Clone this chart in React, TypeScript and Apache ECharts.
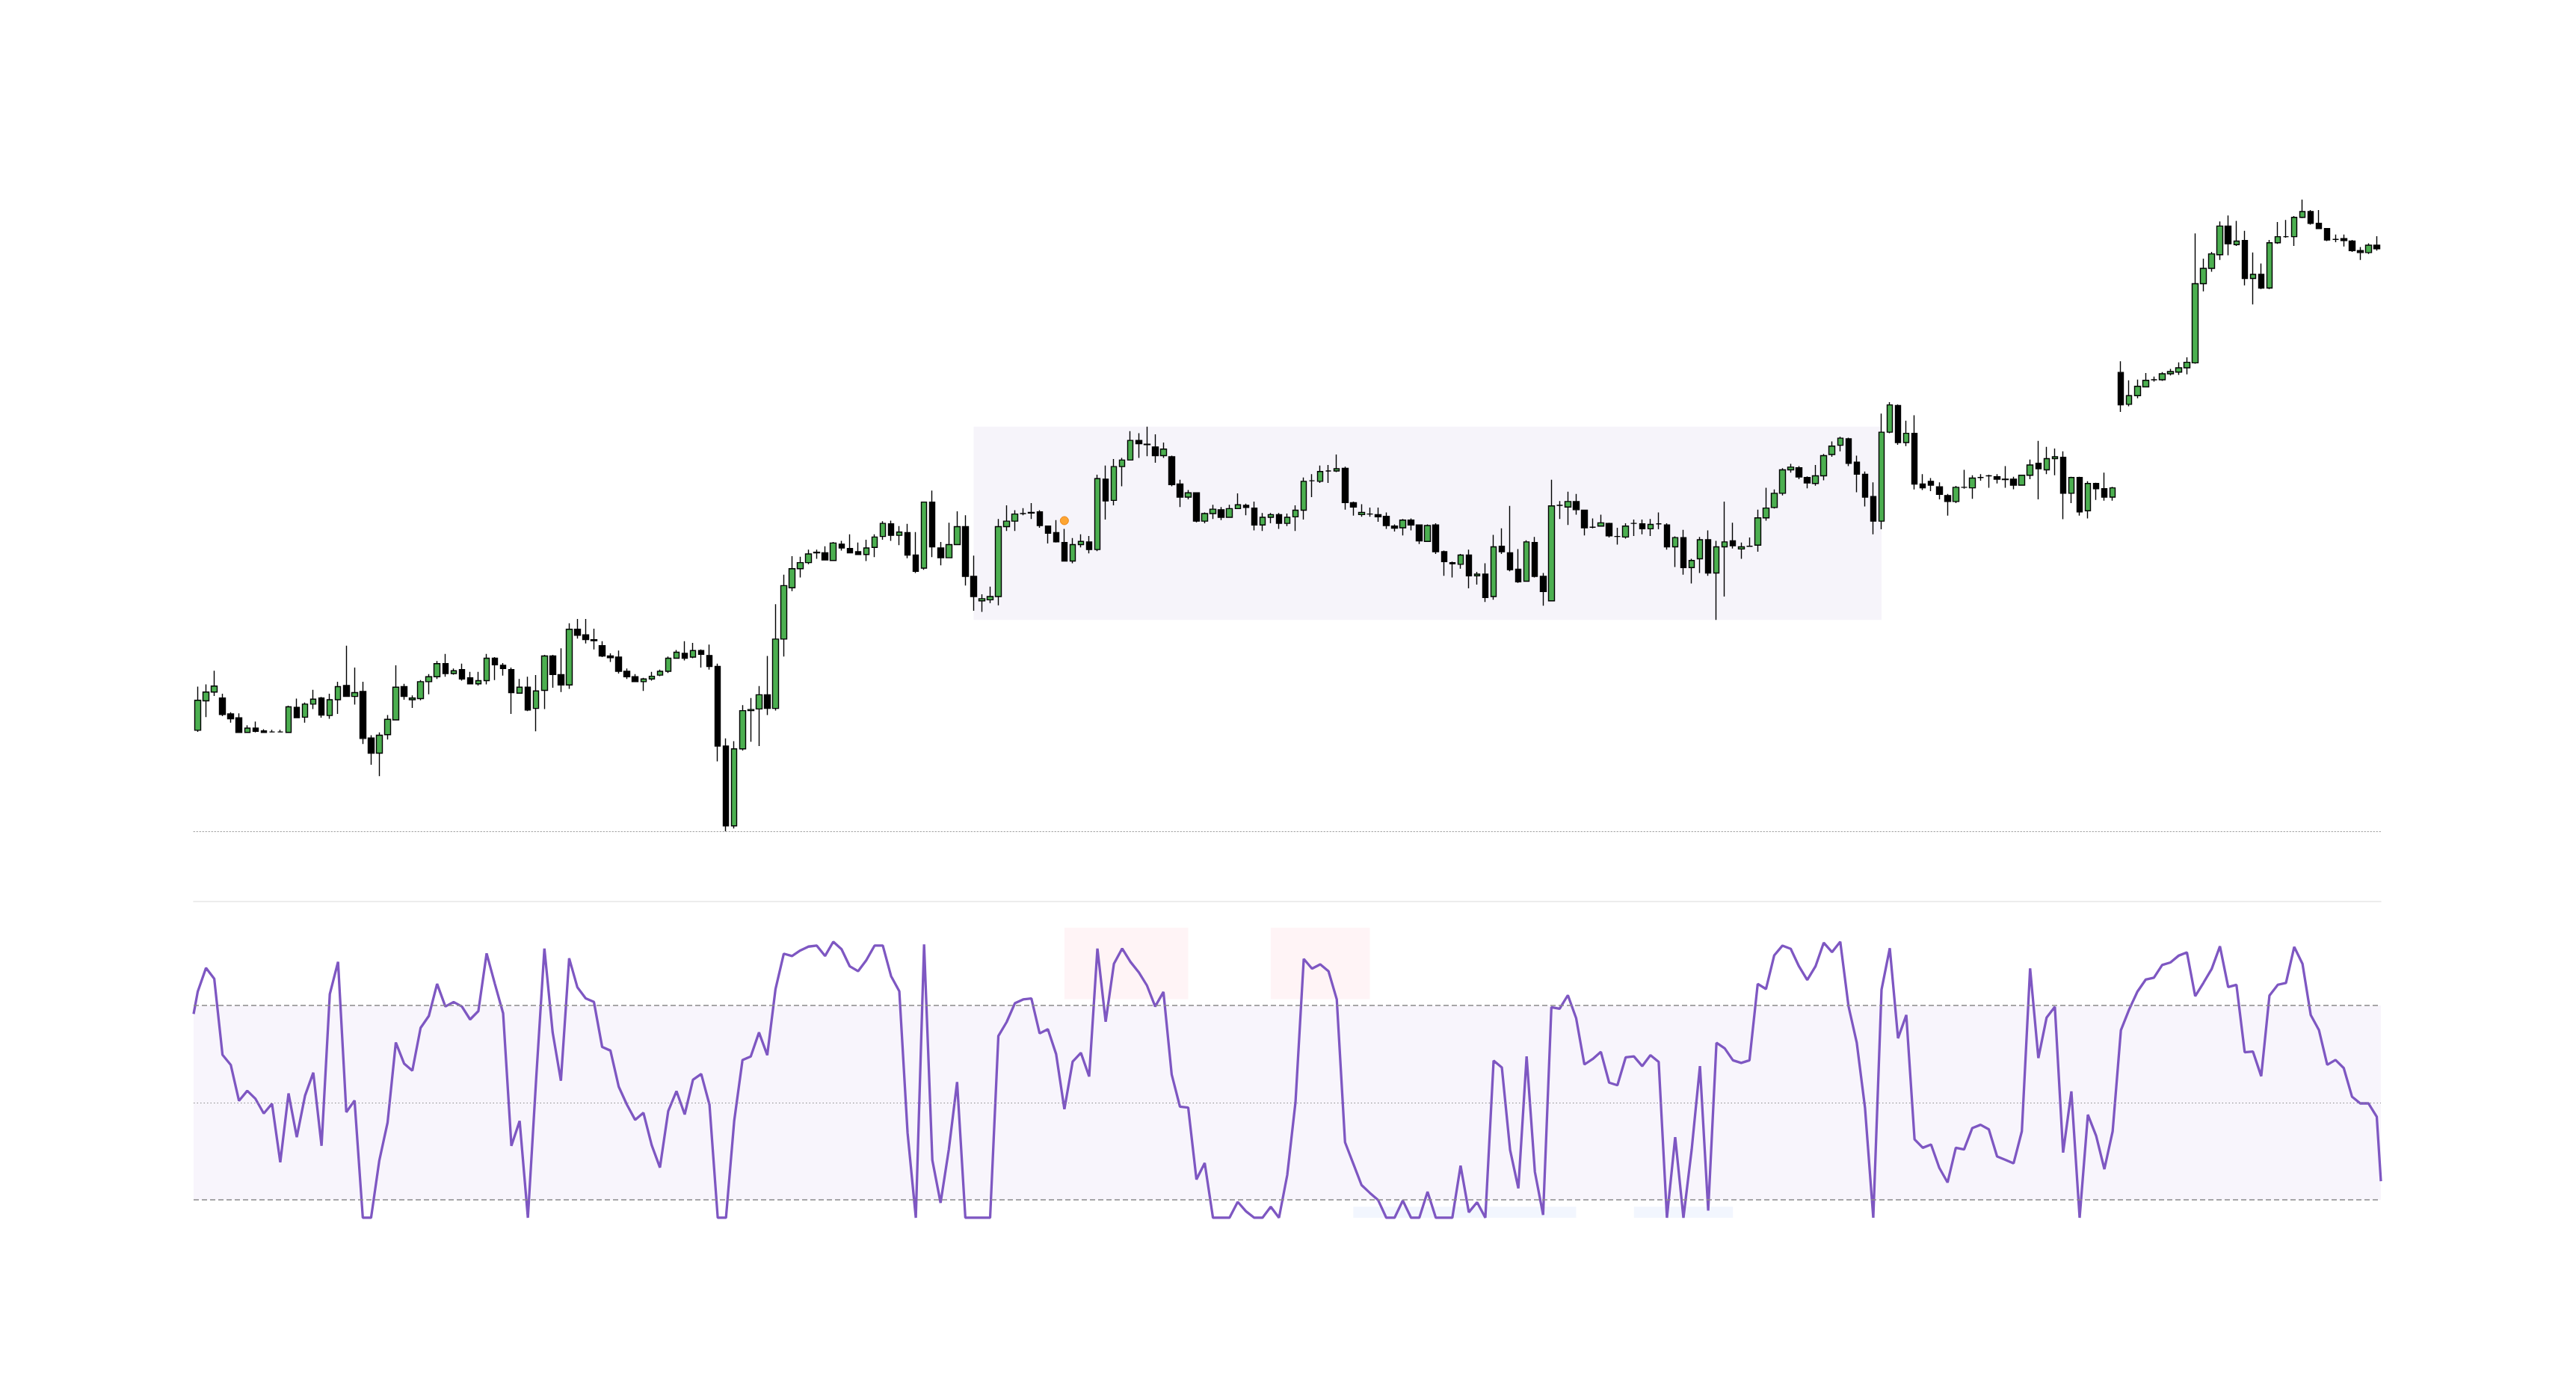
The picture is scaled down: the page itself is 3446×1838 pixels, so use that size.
import React, { useEffect, useRef } from "react";
import * as echarts from "echarts";

// Candles: [open, close, low, high]
const ohlc: number[][] = [
  [130.6,136.1,130.3,138.6],[136.0,137.6,133.0,139.0],[137.6,138.7,136.9,141.5],[136.5,133.5,133.2,137.3],
  [133.6,132.7,132.0,133.9],[132.9,130.2,130.2,133.7],[130.2,131.0,130.2,131.5],[131.0,130.4,130.2,132.2],
  [130.5,130.2,130.2,130.8],[130.3,130.3,130.2,130.7],[130.3,130.3,130.2,130.7],[130.2,134.9,130.2,135.1],
  [134.8,132.9,132.9,136.4],[133.0,135.4,132.0,135.7],[135.4,136.3,134.5,138.0],[136.5,133.4,132.9,136.7],
  [133.3,136.2,132.7,137.3],[136.2,138.6,133.6,139.5],[138.8,136.8,136.7,146.1],[136.8,137.5,135.3,142.1],
  [137.7,129.1,128.1,139.5],[129.2,126.4,124.3,129.7],[126.4,129.7,122.2,130.2],[129.8,132.6,128.9,133.4],
  [132.5,138.5,132.4,142.5],[138.6,136.8,136.2,139.1],[136.2,136.5,134.7,137.0],[136.4,139.5,136.1,139.8],
  [139.5,140.4,137.2,140.9],[140.4,142.8,140.0,143.3],[142.8,141.0,140.4,144.6],[141.0,141.5,140.8,141.9],
  [141.7,140.0,139.7,142.8],[140.2,139.1,139.0,141.3],[139.1,139.7,138.8,141.3],[139.7,143.8,139.0,144.6],
  [143.8,142.6,139.8,144.0],[142.5,141.9,140.6,142.9],[141.7,137.5,133.6,142.1],[137.4,138.5,137.3,140.0],
  [138.5,134.3,134.1,140.4],[134.6,137.8,130.4,140.7],[137.9,144.2,134.5,144.4],[144.2,140.8,138.4,144.4],
  [140.8,138.9,137.6,145.6],[138.9,149.1,138.2,150.2],[149.1,148.0,147.4,151.0],[148.1,147.2,146.5,151.0],
  [147.2,147.0,145.4,149.2],[146.1,144.2,144.0,146.9],[144.2,143.9,143.1,144.7],[144.0,141.4,141.0,145.2],
  [141.4,140.4,140.0,141.9],[140.4,139.5,139.4,140.9],[139.5,140.0,137.8,140.2],[140.0,140.5,139.7,141.3],
  [140.7,141.4,140.5,141.7],[141.4,143.8,141.1,144.1],[143.8,144.9,143.7,145.3],[144.7,143.8,143.4,146.9],
  [144.0,145.2,143.8,146.6],[145.2,144.5,142.1,145.4],[144.3,142.3,141.7,146.3],[142.3,127.7,124.9,142.8],
  [127.7,113.1,112.1,129.1],[113.1,127.2,112.6,128.6],
  [127.2,134.2,126.9,135.2],[134.2,134.4,128.5,136.5],[134.5,137.1,127.7,138.7],[137.1,134.6,133.4,144.2],
  [134.6,147.3,134.2,153.7],[147.3,157.1,144.1,159.1],[156.7,160.2,156.1,162.5],[160.2,161.3,158.6,162.4],
  [161.3,162.9,161.0,163.7],[163.1,163.2,162.0,163.7],[163.1,161.8,161.7,164.3],[161.7,164.9,161.6,165.1],
  [164.7,164.0,163.5,165.3],[163.9,163.1,163.0,166.5],[163.3,162.8,162.7,165.0],[162.8,164.0,161.6,165.5],
  [164.1,166.0,162.3,166.5],[166.1,168.5,165.5,168.9],[168.4,166.3,165.3,169.0],[166.3,166.9,164.5,168.0],
  [166.8,162.7,162.1,168.4],[162.7,159.7,159.4,166.9],[160.3,172.4,160.0,172.5],[172.4,164.2,162.3,174.5],
  [164.0,162.2,160.8,165.1],[162.2,164.6,162.1,168.6],[164.6,167.9,164.5,170.7],[167.9,158.8,157.1,170.0],
  [158.8,155.1,152.5,162.6],[154.3,154.7,152.3,155.5],[154.5,155.1,153.9,156.9],[155.1,167.9,153.5,169.3],
  [167.9,168.9,167.1,171.8],[168.9,170.2,167.1,170.9],[170.3,170.3,170.0,171.3],[170.5,170.4,169.3,172.2],
  [170.6,168.1,167.7,170.9],[168.0,166.7,164.8,168.1],[166.8,165.1,165.0,169.1],[165.0,161.6,161.5,167.5],
  [161.6,164.6,161.2,165.8],[164.6,165.2,164.1,166.5],[165.1,163.7,163.0,166.2],[163.7,176.7,163.4,177.4],
  [176.6,172.6,169.2,179.1],[172.7,178.9,171.8,180.3],[178.9,180.1,175.3,180.5],[180.1,183.7,180.0,185.4],
  [183.7,183.1,180.5,185.0],[183.0,182.9,180.8,186.2],[182.5,180.9,179.6,184.8],[180.9,182.1,180.5,183.3],
  [180.7,175.6,175.3,180.9],[175.7,173.3,171.5,176.5],[173.3,174.1,172.9,174.6],[174.1,168.9,168.7,174.2],
  [168.9,170.3,168.5,170.5],[170.3,171.1,169.3,171.9],[171.0,169.6,169.1,171.5],[169.6,171.2,169.5,171.9],
  [171.2,171.9,171.2,174.0],[171.8,171.4,170.0,172.1],[171.3,168.2,167.2,172.5],[168.2,169.6,167.1,170.4],
  [169.6,170.1,168.5,170.4],[170.1,168.5,167.5,170.4],
  [168.5,169.6,168.0,170.3],[169.7,170.9,167.1,171.8],[170.9,176.2,169.2,176.9],[176.3,176.3,173.3,177.5],
  [176.2,178.0,175.9,179.1],[178.1,178.1,175.9,179.2],[178.1,178.5,177.9,181.1],[178.6,172.3,171.0,178.9],
  [172.3,171.5,169.9,172.5],[170.1,170.5,169.7,172.0],[170.2,170.2,169.7,171.4],[170.1,169.7,168.8,171.4],
  [169.8,168.1,167.5,170.5],[168.0,167.6,167.0,168.3],[167.7,169.1,166.3,169.3],[169.1,168.2,167.2,169.4],
  [168.2,165.3,164.7,168.3],[165.2,168.1,165.1,168.3],[168.2,163.3,162.9,168.5],[163.3,161.5,158.9,163.5],
  [161.3,161.1,158.6,161.5],[161.0,162.7,160.2,162.9],[162.7,158.9,156.6,163.7],[158.9,159.2,157.3,159.6],
  [159.2,154.9,154.1,161.2],[155.1,164.2,154.5,166.4],[164.3,163.3,162.9,167.6],[163.1,160.0,159.7,171.7],
  [160.1,157.8,157.6,163.8],[157.9,165.1,157.8,165.4],[165.0,158.8,158.6,166.0],[158.8,156.0,153.4,159.4],
  [154.3,171.7,154.2,176.5],[171.8,171.8,169.3,172.6],[171.5,172.5,168.2,174.3],[172.5,171.0,170.1,173.9],
  [170.9,167.7,166.3,171.0],[167.8,167.8,167.6,169.4],[168.0,168.6,167.9,170.1],[168.5,166.2,165.9,168.6],
  [166.1,166.1,164.6,167.7],[166.0,168.0,165.7,168.5],[168.5,168.5,166.2,169.2],[168.4,167.5,166.5,169.2],
  [167.5,168.3,166.2,169.3],[168.4,168.4,167.4,170.5],[168.2,164.2,163.7,168.5],[164.2,165.9,160.5,166.1],
  [165.9,160.4,159.1,167.3],[160.4,161.7,157.5,162.0],[162.0,165.5,159.4,166.0],[165.5,159.4,158.9,167.2],
  [159.4,164.2,150.8,165.3],[164.2,165.1,155.1,172.5],[165.3,164.4,163.9,168.6],[163.8,164.2,162.0,165.0],
  [164.3,164.3,164.2,165.9],[164.5,169.5,163.3,171.0],[169.5,171.3,169.0,175.0],[171.4,174.0,171.2,174.7],
  [174.0,178.3,173.6,178.6],[178.3,178.8,177.8,179.4],[178.7,177.0,176.6,179.0],[176.9,175.9,174.9,177.1],
  [175.8,177.2,175.4,179.2],[177.2,180.9,176.4,181.2],
  [181.1,182.65,180.7,183.5],[182.8,184.1,181.7,184.35],[184.0,179.5,179.0,184.2],[179.7,177.5,174.2,180.9],
  [177.5,173.3,171.6,178.0],[173.4,168.9,166.5,176.0],[168.9,185.2,167.4,188.6],[185.2,190.2,185.0,190.7],
  [190.1,183.3,182.9,190.3],[183.3,185.0,182.65,187.3],[185.0,175.7,174.7,188.3],[175.7,175.0,174.6,177.5],
  [176.2,175.5,174.4,176.8],[175.2,173.8,172.9,176.0],[173.6,172.5,169.9,173.9],[172.5,175.1,172.2,175.35],
  [175.1,175.1,174.85,178.3],[175.0,176.8,173.0,177.3],[176.9,176.9,176.3,177.5],[177.2,177.2,175.0,177.4],
  [177.05,176.6,175.8,177.5],[176.6,176.5,175.0,179.0],[176.6,175.5,174.75,177.05],[175.5,177.3,175.5,177.4],
  [177.3,179.2,176.6,180.2],[179.5,178.5,172.9,183.6],[178.3,180.35,177.5,182.5],[180.35,180.7,177.3,182.2],
  [180.6,174.0,169.25,181.7],[174.0,176.9,172.2,177.05],[176.9,170.6,169.9,177.05],[170.8,175.8,169.4,176.2],
  [175.8,174.85,172.8,175.95],[174.85,173.3,172.65,177.8],[173.3,175.0,172.65,175.2],[196.15,190.2,188.9,198.2],
  [190.3,191.9,189.95,194.7],[191.9,193.6,191.4,194.85],[193.5,194.7,193.4,196.05],[194.8,194.8,194.45,195.4],
  [194.8,195.9,194.6,196.2],[195.9,196.3,195.6,196.8],[196.2,197.0,195.7,198.0],[197.0,198.0,195.8,198.9],
  [197.9,212.4,197.75,221.6],[212.4,215.2,211.0,217.0],[215.2,217.85,214.6,218.2],[217.7,222.95,216.75,223.8],
  [222.95,219.7,217.6,224.9],[219.55,220.2,219.3,223.9],[220.3,213.35,212.1,222.1],[213.35,214.1,208.6,218.1],
  [214.1,211.6,211.4,216.1],[211.6,219.9,211.4,220.4],[219.9,221.0,219.7,223.7],[221.0,221.0,220.8,224.06],
  [221.0,224.55,219.3,224.8],[224.55,225.6,224.4,227.8],[225.6,223.45,223.2,225.9],[223.45,222.5,222.5,225.9],
  [222.5,220.4,220.2,222.5],[220.5,220.5,220.0,221.4],[220.65,220.3,219.2,221.4],[220.2,218.45,218.2,220.4],
  [218.45,218.1,216.75,219.1],[218.1,219.45,217.85,219.8],[219.45,218.8,218.45,221.1],
];

// Oscillator, one value per candle
const oscillator: number[] = [
  84.3,91.6,88.3,64.8,61.7,50.6,53.7,51.2,46.7,49.7,31.6,52.9,39.4,52.2,59.3,36.7,83.5,93.5,47.1,50.7,
  14.5,14.5,32.2,43.9,68.6,62.1,59.9,73.1,76.8,86.7,79.7,81.1,79.7,75.7,78.3,96.1,86.7,77.6,36.7,44.4,
  14.5,57.3,97.6,71.7,56.8,94.6,85.6,82.2,81.1,67.2,66.1,55.0,49.4,44.7,46.9,36.9,30.0,47.4,53.6,46.4,
  57.1,58.9,49.4,14.5,14.5,44.5,63.2,64.3,71.7,64.7,85.1,96.0,95.3,97.0,98.2,98.5,95.3,99.7,97.4,92.1,
  90.6,94.0,98.5,98.5,89.1,84.4,40.7,14.5,98.9,32.3,19.1,35.6,56.4,14.5,14.5,14.5,14.5,70.6,74.9,80.7,
  81.9,82.2,71.4,72.7,65.0,48.0,62.7,65.4,58.1,97.6,75.0,92.9,97.6,93.5,90.3,86.2,79.7,84.2,58.7,48.8,
  48.5,26.3,31.4,14.5,14.5,14.5,19.4,16.5,14.5,14.5,17.9,14.5,27.7,50.2,94.4,91.4,92.7,90.6,81.9,37.8,
  31.2,24.6,22.2,20.0,14.5,14.5,19.8,14.5,14.5,22.5,14.5,14.5,14.5,30.6,16.2,19.3,14.5,63.0,60.9,35.4,
  23.6,64.3,28.7,15.4,79.5,79.0,83.2,76.1,61.8,63.5,65.7,56.2,55.4,64.0,64.3,61.3,64.7,62.6,14.5,39.4,
  14.5,35.6,61.3,16.7,68.5,66.8,63.1,62.3,63.1,86.7,85.1,95.5,98.5,97.5,92.1,87.9,92.1,99.4,96.5,99.7,
  79.8,68.5,48.4,14.5,84.9,97.7,69.9,77.1,38.7,36.1,37.1,29.9,25.4,36.1,35.6,42.2,43.2,41.8,33.4,32.4,
  31.3,41.2,91.5,63.8,76.3,79.6,34.6,53.5,14.5,46.3,39.8,29.5,41.2,72.4,78.8,84.3,88.0,88.6,92.5,93.3,
  95.4,96.4,82.9,87.0,91.3,98.3,85.7,86.4,65.6,65.8,58.2,83.1,86.4,87.0,98.1,92.9,77.1,72.4,61.7,63.2,
  60.7,51.9,49.8,49.8,45.7,
];
// values where the oscillator line meets the left and right plot edges
const oscillatorEdges = [77.4, 25.8];

const oscillatorLevels = [80, 50, 20];
const oscillatorRange = [14.5, 112.1];

// shaded consolidation range on the price chart (candle indices)
const rangeBox = [94, 204];
// signal marker
const signalIndex = 105;
const signalPrice = 169.0;

// zones on the oscillator: [fromIndex, toIndex, low, high]
const overboughtZones = [
  [105, 120, 82, 104],
  [130, 142, 82, 104],
];
const oversoldZones = [
  [140, 167, 14.5, 17.9],
  [174, 186, 14.5, 17.9],
];

export default function App() {
  const ref = useRef<HTMLDivElement>(null);

  useEffect(() => {
    if (!ref.current) return;
    const chart = echarts.init(ref.current, undefined, { renderer: "svg" });
    const categories = ohlc.map((_, i) => String(i + 1));
    const n = ohlc.length;

    let boxLow = Infinity;
    let boxHigh = -Infinity;
    for (let i = rangeBox[0]; i < rangeBox[1]; i++) {
      boxLow = Math.min(boxLow, ohlc[i][2]);
      boxHigh = Math.max(boxHigh, ohlc[i][3]);
    }

    const oscData: number[][] = [
      [-0.5, oscillatorEdges[0]],
      ...oscillator.map((v, i) => [i, v]),
      [n - 0.5, oscillatorEdges[1]],
    ];

    const zoneAreas: any[] = [
      [{ yAxis: oscillatorLevels[2], itemStyle: { color: "#f8f5fc" } }, { yAxis: oscillatorLevels[0] }],
      ...overboughtZones.map((z) => [
        { xAxis: z[0], yAxis: z[2], itemStyle: { color: "#fff4f6" } },
        { xAxis: z[1], yAxis: z[3] },
      ]),
      ...oversoldZones.map((z) => [
        { xAxis: z[0], yAxis: z[2], itemStyle: { color: "#f2f6fe" } },
        { xAxis: z[1], yAxis: z[3] },
      ]),
    ];

    const option: any = {
      animation: false,
      backgroundColor: "#ffffff",
      grid: [
        { left: 259, right: 261, top: 267, bottom: 726 },
        { left: 259, right: 261, top: 1206, bottom: 209 },
      ],
      xAxis: [
        {
          type: "category",
          gridIndex: 0,
          data: categories,
          boundaryGap: true,
          axisLine: { show: true, onZero: false, lineStyle: { color: "#a0a0a0", width: 1, type: [1.5, 2.5] } },
          axisTick: { show: false },
          axisLabel: { show: false },
          splitLine: { show: false },
        },
        {
          type: "value",
          gridIndex: 1,
          min: -0.5,
          max: n - 0.5,
          position: "top",
          axisLine: { show: true, onZero: false, lineStyle: { color: "#e6e6e6", width: 1.5 } },
          axisTick: { show: false },
          axisLabel: { show: false },
          splitLine: { show: false },
        },
      ],
      yAxis: [
        { type: "value", gridIndex: 0, scale: true, min: "dataMin", max: "dataMax", show: false },
        { type: "value", gridIndex: 1, min: oscillatorRange[0], max: oscillatorRange[1], show: false },
      ],
      series: [
        {
          type: "candlestick",
          xAxisIndex: 0,
          yAxisIndex: 0,
          data: ohlc,
          barWidth: 8,
          itemStyle: {
            color: "#4caf50",
            color0: "#000000",
            borderColor: "#000000",
            borderColor0: "#000000",
            borderWidth: 1.4,
          },
          markArea: {
            silent: true,
            itemStyle: { color: "#f6f4fa" },
            data: [[
              { xAxis: categories[rangeBox[0]], yAxis: boxLow },
              { xAxis: categories[rangeBox[1]], yAxis: boxHigh },
            ]],
          },
        },
        {
          type: "scatter",
          xAxisIndex: 0,
          yAxisIndex: 0,
          data: [[categories[signalIndex], signalPrice]],
          symbolSize: 11,
          z: 5,
          itemStyle: { color: "#ff9100", borderColor: "#e67700", borderWidth: 1 },
        },
        {
          type: "line",
          xAxisIndex: 1,
          yAxisIndex: 1,
          data: oscData,
          showSymbol: false,
          symbol: "none",
          lineStyle: { color: "#7e57c2", width: 3.3 },
          markArea: { silent: true, data: zoneAreas },
          markLine: {
            silent: true,
            symbol: ["none", "none"],
            label: { show: false },
            lineStyle: { color: "#8a8a8a", width: 1.5, type: [7, 4] },
            data: [
              { yAxis: oscillatorLevels[0] },
              { yAxis: oscillatorLevels[1], lineStyle: { type: [1.5, 3], width: 1.2, color: "#8a8a8a" } },
              { yAxis: oscillatorLevels[2] },
            ],
          },
        },
      ],
    };

    chart.setOption(option);
    return () => chart.dispose();
  }, []);

  return (
    <div
      ref={ref}
      style={{ position: "absolute", left: 0, top: 0, width: 3446, height: 1838, background: "#fff" }}
    />
  );
}
